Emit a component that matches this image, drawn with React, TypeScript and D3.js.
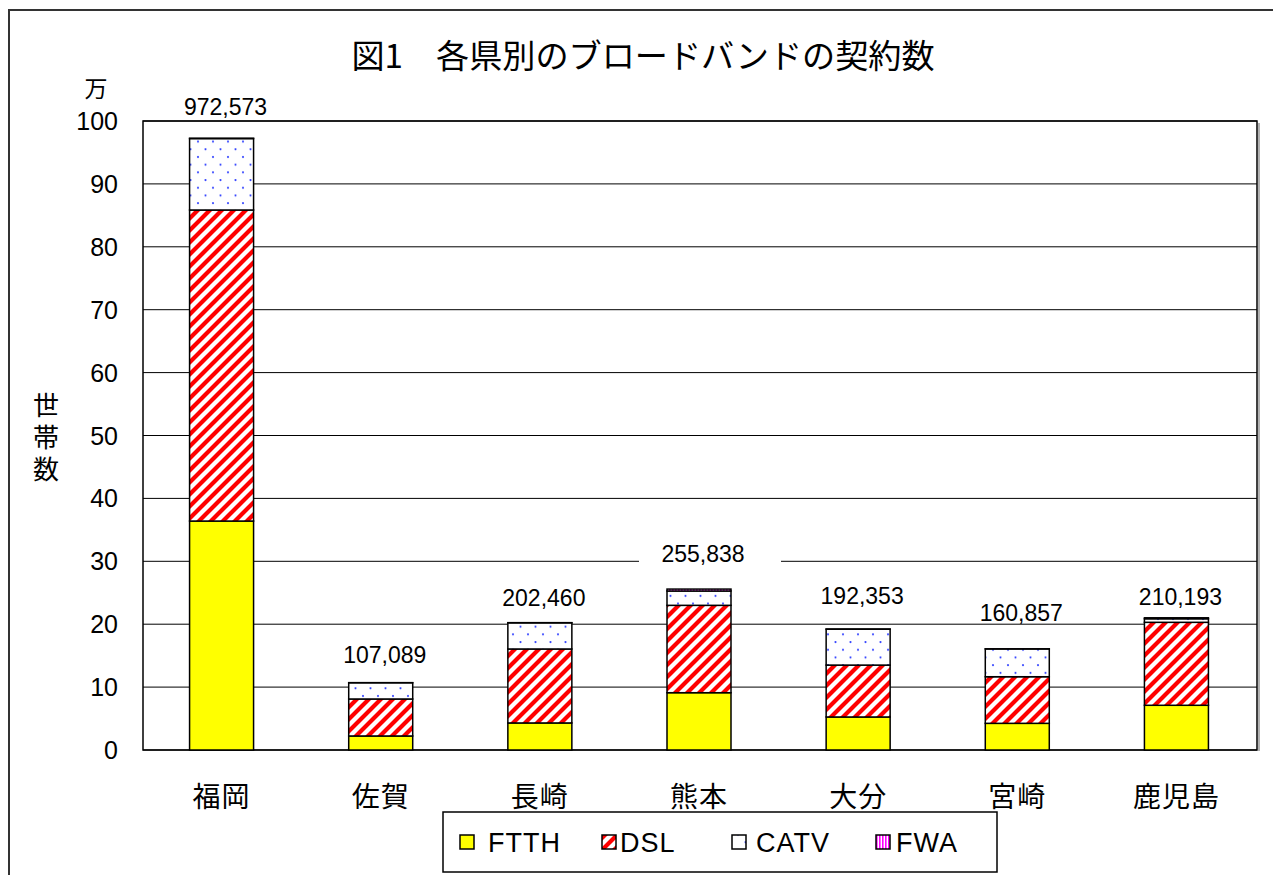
import React from "react";
import * as d3 from "d3";

const categories = ["福岡", "佐賀", "長崎", "熊本", "大分", "宮崎", "鹿児島"];
const seriesNames = ["FTTH", "DSL", "CATV", "FWA"];
const ftth = [364000, 22300, 43000, 91100, 52500, 42400, 71100];
const dsl = [494500, 58800, 117600, 138900, 82500, 74100, 131900];
const catv = [113573, 25789, 41560, 22800, 57053, 44157, 5693];
const fwa = [500, 200, 300, 3038, 300, 200, 1500];
const yTicks = [0, 10, 20, 30, 40, 50, 60, 70, 80, 90, 100];

const W = 1273;
const H = 875;
const plot = { left: 143, right: 1257, top: 121, bottom: 750 };
const labelLift = [31, 28, 25, 35, 33, 36, 21];
const fills = ["#FFFF00", "url(#pDSL)", "url(#pCATV)", "url(#pFWA)"];
const LATIN = "'Liberation Sans', Arial, sans-serif";
const CJK = "'Noto Sans CJK JP', 'Noto Sans', sans-serif";

export default function App() {
  const series = [ftth, dsl, catv, fwa];
  const rows = categories.map((c, i) => ({
    cat: c,
    FTTH: ftth[i] / 10000,
    DSL: dsl[i] / 10000,
    CATV: catv[i] / 10000,
    FWA: fwa[i] / 10000,
  }));
  const stacked = d3.stack<any>().keys(seriesNames)(rows);
  const x = d3
    .scalePoint<string>()
    .domain(categories)
    .range([plot.left, plot.right])
    .padding(0.5);
  const y = d3.scaleLinear().domain([0, 100]).range([plot.bottom, plot.top]);
  const barW = 64;
  const fmt = d3.format(",");
  const totals = categories.map((_, i) => series.reduce((s, a) => s + a[i], 0));

  const legendItems = [
    { name: "FTTH", sx: 460, tx: 488 },
    { name: "DSL", sx: 602, tx: 620 },
    { name: "CATV", sx: 732, tx: 756 },
    { name: "FWA", sx: 876, tx: 896 },
  ];

  return (
    <svg
      width={W}
      height={H}
      style={{ position: "absolute", left: 0, top: 0, background: "#fff" }}
    >
      <defs>
        <pattern id="pDSL" patternUnits="userSpaceOnUse" width={12} height={12}>
          <rect width={12} height={12} fill="#fff" />
          <path
            d="M-3,3 L3,-3 M0,12 L12,0 M9,15 L15,9"
            stroke="#FF0000"
            strokeWidth={4.2}
          />
        </pattern>
        <pattern id="pCATV" patternUnits="userSpaceOnUse" width={15} height={15.4}>
          <rect width={15} height={15.4} fill="#fff" />
          <circle cx={3} cy={3} r={1.1} fill="#3344FF" />
          <circle cx={10.5} cy={10.7} r={1.1} fill="#3344FF" />
        </pattern>
        <pattern id="pFWA" patternUnits="userSpaceOnUse" width={3} height={4}>
          <rect width={3} height={4} fill="#fff" />
          <rect x={0} width={1.6} height={4} fill="#FF00FF" />
        </pattern>
        <clipPath id="plotClip">
          <rect
            x={plot.left + 1}
            y={plot.top - 40}
            width={plot.right - plot.left - 2}
            height={plot.bottom - plot.top + 40}
          />
        </clipPath>
      </defs>

      {/* outer chart border */}
      <rect x={9} y={10} width={1400} height={1000} fill="#fff" stroke="#333" strokeWidth={2} />

      {/* title */}
      <text
        x={643}
        y={54}
        textAnchor="middle"
        dominantBaseline="central"
        fontFamily={CJK}
        fontSize={33}
        fontWeight={400}
        textLength={583}
        lengthAdjust="spacingAndGlyphs"
        fill="#000"
      >
        図1　各県別のブロードバンドの契約数
      </text>

      {/* gridlines */}
      {yTicks.map((t) => (
        <line
          key={"g" + t}
          x1={plot.left}
          x2={plot.right}
          y1={y(t)}
          y2={y(t)}
          stroke="#000"
          strokeWidth={1}
        />
      ))}

      {/* plot frame */}
      <line x1={plot.right + 2} x2={plot.right + 2} y1={plot.top + 2} y2={plot.bottom + 1} stroke="#999" strokeWidth={1.5} />
      <rect
        x={plot.left}
        y={plot.top}
        width={plot.right - plot.left}
        height={plot.bottom - plot.top}
        fill="none"
        stroke="#000"
        strokeWidth={1.5}
      />

      {/* y tick labels */}
      {yTicks.map((t) => (
        <text
          key={"t" + t}
          x={118}
          y={y(t)}
          textAnchor="end"
          dominantBaseline="central"
          fontFamily={LATIN}
          fontSize={25}
          fill="#000"
        >
          {t}
        </text>
      ))}
      <text x={96} y={87} textAnchor="middle" dominantBaseline="central" fontFamily={CJK} fontSize={23} fill="#000">
        万
      </text>
      <text
        x={46}
        y={392}
        writingMode="tb"
        style={{ writingMode: "vertical-rl" as any }}
        fontFamily={CJK}
        fontSize={26}
        letterSpacing={6}
        fill="#000"
      >
        世帯数
      </text>

      {/* bars */}
      {stacked.map((layer, si) => (
        <g key={seriesNames[si]}>
          {layer.map((d, i) => {
            const x0 = (x(categories[i]) as number) - barW / 2 - 1;
            return (
              <rect
                key={i}
                x={x0}
                y={y(d[1])}
                width={barW}
                height={Math.max(0, y(d[0]) - y(d[1]))}
                fill={fills[si]}
                stroke="#000"
                strokeWidth={1.5}
              />
            );
          })}
        </g>
      ))}

      {/* total labels */}
      {categories.map((c, i) => {
        const cy = y(totals[i] / 10000) - labelLift[i];
        const cx = (x(c) as number) + 3;
        return (
          <g key={"l" + c}>
            <rect
              x={cx + 7 - 71}
              y={cy - 10}
              width={142}
              height={20}
              fill="#fff"
              clipPath="url(#plotClip)"
            />
            <text
              x={cx}
              y={cy}
              textAnchor="middle"
              dominantBaseline="central"
              fontFamily={LATIN}
              fontSize={23}
              fill="#000"
            >
              {fmt(totals[i])}
            </text>
          </g>
        );
      })}

      {/* category labels */}
      {categories.map((c) => (
        <text
          key={"c" + c}
          x={(x(c) as number) - 1}
          y={795}
          textAnchor="middle"
          dominantBaseline="central"
          fontFamily={CJK}
          fontSize={28}
          letterSpacing={1}
          fill="#000"
        >
          {c}
        </text>
      ))}

      {/* legend */}
      <rect x={443} y={812} width={554} height={60} fill="#fff" stroke="#000" strokeWidth={1.5} />
      {legendItems.map((it, i) => (
        <g key={it.name}>
          <rect x={it.sx} y={835} width={14} height={14} fill={fills[i]} stroke="#000" strokeWidth={1.5} />
          <text
            x={it.tx}
            y={843}
            dominantBaseline="central"
            fontFamily={LATIN}
            fontSize={27}
            letterSpacing={1}
            fill="#000"
          >
            {it.name}
          </text>
        </g>
      ))}
    </svg>
  );
}
